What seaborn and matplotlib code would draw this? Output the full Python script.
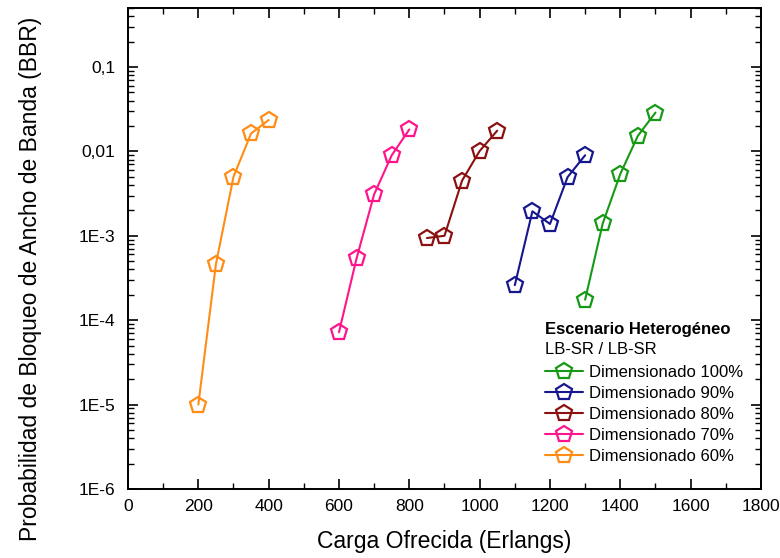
import matplotlib
matplotlib.use("Agg")
import matplotlib.pyplot as plt
import matplotlib.ticker as mticker
import numpy as np
import pandas as pd
import seaborn as sns

# ── data ────────────────────────────────────────────────────────────────────
series_labels = ["Dimensionado 100%", "Dimensionado 90%", "Dimensionado 80%",
                 "Dimensionado 70%", "Dimensionado 60%"]
series_colors = ["#169a16", "#16168f", "#8b1010", "#ff148c", "#ff8c14"]

load_100 = [1300, 1350, 1400, 1450, 1500]
bbr_100 = [1.75e-4, 1.4e-3, 5.4e-3, 0.0153, 0.0288]

load_90 = [1100, 1150, 1200, 1250, 1300]
bbr_90 = [2.6e-4, 1.95e-3, 1.38e-3, 4.95e-3, 9.0e-3]

load_80 = [850, 900, 950, 1000, 1050]
bbr_80 = [9.4e-4, 1.0e-3, 4.5e-3, 0.0101, 0.0176]

load_70 = [600, 650, 700, 750, 800]
bbr_70 = [7.2e-5, 5.4e-4, 3.1e-3, 9.0e-3, 0.0182]

load_60 = [200, 250, 300, 350, 400]
bbr_60 = [1.0e-5, 4.6e-4, 5.0e-3, 0.0163, 0.0235]

loads = [load_100, load_90, load_80, load_70, load_60]
bbrs = [bbr_100, bbr_90, bbr_80, bbr_70, bbr_60]

df = pd.concat(
    [pd.DataFrame({"carga": x, "bbr": y, "serie": lab})
     for x, y, lab in zip(loads, bbrs, series_labels)],
    ignore_index=True,
)

sns.set_theme(style="ticks")
plt.rcParams["font.family"] = ["Liberation Sans", "DejaVu Sans"]
plt.rcParams["text.color"] = "black"
plt.rcParams["axes.labelcolor"] = "black"

fig = plt.figure(figsize=(7.8, 5.58), dpi=100)
ax = fig.add_axes([0.1641, 0.1237, 0.8115, 0.862])

for lab, col in zip(series_labels, series_colors):
    sns.lineplot(
        data=df[df["serie"] == lab], x="carga", y="bbr", ax=ax,
        color=col, marker="p", markersize=12, markerfacecolor="none",
        markeredgecolor=col, markeredgewidth=1.6, linewidth=1.5,
        label=lab, sort=False,
    )

ax.set_yscale("log")
ax.set_ylim(1e-6, 0.5)
ax.set_xlim(0, 1800)

ax.xaxis.set_major_locator(mticker.MultipleLocator(200))
ax.xaxis.set_minor_locator(mticker.MultipleLocator(100))
ax.yaxis.set_major_locator(mticker.LogLocator(base=10, numticks=12))
ax.yaxis.set_minor_locator(mticker.LogLocator(base=10, subs=np.arange(2, 10), numticks=12))

ytick_text = {1e-1: "0,1", 1e-2: "0,01", 1e-3: "1E-3", 1e-4: "1E-4",
              1e-5: "1E-5", 1e-6: "1E-6"}


def fmt_y(v, _):
    for k, s in ytick_text.items():
        if np.isclose(v, k, rtol=1e-6):
            return s
    return ""


ax.yaxis.set_major_formatter(mticker.FuncFormatter(fmt_y))
ax.yaxis.set_minor_formatter(mticker.NullFormatter())

ax.tick_params(which="both", direction="in", top=True, right=True,
               colors="black", labelsize=12.5)
ax.tick_params(which="major", length=7, width=1.2)
ax.tick_params(which="minor", length=4, width=1.0)
ax.tick_params(axis="x", pad=7)
ax.tick_params(axis="y", pad=9)
for sp in ax.spines.values():
    sp.set_linewidth(1.4)
    sp.set_color("black")

ax.set_xlabel("Carga Ofrecida (Erlangs)", fontsize=16.5, labelpad=12)
ax.set_ylabel("Probabilidad de Bloqueo de Ancho de Banda (BBR)", fontsize=16.5)
ax.yaxis.set_label_coords(-0.136, 0.4366)

# legend header
ax.text(0.659, 0.3306, "Escenario Heterogéneo", transform=ax.transAxes,
        fontsize=12, fontweight="bold", ha="left", va="center")
ax.text(0.659, 0.289, "LB-SR / LB-SR", transform=ax.transAxes,
        fontsize=12, ha="left", va="center")
ax.legend(loc="upper left", bbox_to_anchor=(0.659, 0.258), frameon=False,
          fontsize=12, handlelength=2.3, handletextpad=0.35, labelspacing=0.36,
          borderpad=0, borderaxespad=0)

plt.savefig("out.png", dpi=100)
